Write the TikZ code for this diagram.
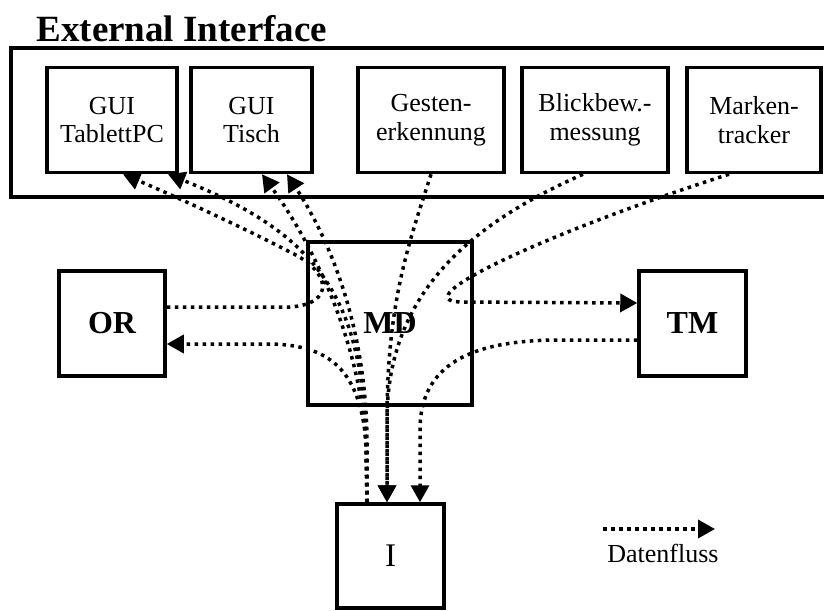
\documentclass[tikz,border=0pt]{standalone}
\usepackage{fontspec}
\setmainfont{Liberation Serif}
\usetikzlibrary{arrows.meta}
\tikzset{>={Triangle[length=17pt,width=18pt]}}

\begin{document}
\begin{tikzpicture}[x=1pt,y=-1pt,
  box/.style={draw,line width=3.5pt,inner sep=0pt,align=center,font=\fontsize{26}{28.5}\selectfont},
  modbox/.style={box,minimum height=105pt,font=\bfseries\fontsize{32}{34}\selectfont},
  flow/.style={->,line width=3.5pt,dash pattern=on 3.5pt off 4.5pt}]
\useasboundingbox (0,0) rectangle (824,610);
\node[anchor=base west,font=\bfseries\fontsize{37}{40}\selectfont] (title) at (33,42) {External Interface};
\node[box,minimum width=820pt,minimum height=149pt] (extif) at (421,122.5) {};
\node[box,minimum width=130pt,minimum height=105pt] (gtab) at (112,120) {GUI\\TablettPC};
\node[box,minimum width=121pt,minimum height=105pt] (gtisch) at (251.5,120) {GUI\\Tisch};
\node[box,minimum width=146pt,minimum height=105pt] (gesten) at (431,120) {Gesten-\\erkennung};
\node[box,minimum width=146pt,minimum height=105pt] (blick) at (595,120) {Blickbew.-\\messung};
\node[box,minimum width=134pt,minimum height=105pt] (marken) at (754,120) {Marken-\\tracker};
\node[modbox,minimum width=106pt] (OR) at (112,323.5) {OR};
\node[modbox,minimum width=164pt,minimum height=163pt] (MD) at (390,323.5) {MD};
\node[modbox,minimum width=107pt] (TM) at (692.5,323.5) {TM};
\node[box,minimum width=107pt,minimum height=104pt,font=\fontsize{33}{36}\selectfont] (I) at (390.5,556) {I};
% Datenfluss
\draw[flow] ([yshift=16.5pt]OR.east) -- (290,307) .. controls (335,304) and (332,272) .. (290,252) .. controls (240,226) and (170,194) .. ([xshift=11pt]gtab.south);
\draw[flow] ([xshift=-23.5pt]I.north) -- (367,455) .. controls (363,375) and (335,345) .. (270,344) -- ([yshift=-20.5pt]OR.east);
\draw[flow] ([xshift=-23.5pt]I.north) -- (366,450) .. controls (364,300) and (320,235) .. ([xshift=56pt]gtab.south);
\draw[flow] ([xshift=-23.5pt]I.north) -- (366,450) .. controls (362,340) and (310,240) .. ([xshift=10.5pt]gtisch.south);
\draw[flow] ([xshift=-23.5pt]I.north) -- (367,450) .. controls (368,330) and (330,240) .. ([xshift=35.5pt]gtisch.south);
\draw[flow] (gesten.south) .. controls (410,240) and (387,300) .. (387,420) -- ([xshift=-3.5pt]I.north);
\draw[flow] ([xshift=-12pt]blick.south) .. controls (475,222) and (387,290) .. (387,420) -- ([xshift=-3.5pt]I.north);
\draw[flow] ([xshift=-25pt]marken.south) .. controls (540,235) and (405,300) .. (460,302) -- ([yshift=20.5pt]TM.west);
\draw[flow] ([yshift=-16.5pt]TM.west) -- (560,340) .. controls (470,340) and (420,365) .. (420,430) -- ([xshift=29.5pt]I.north);
% Legende
\coordinate (lgA) at (603,529);
\coordinate (lgB) at (715,529);
\draw[flow] (lgA) -- (lgB);
\node[font=\fontsize{26}{28.5}\selectfont] (lgtext) at (663,553) {Datenfluss};
\end{tikzpicture}
\end{document}
